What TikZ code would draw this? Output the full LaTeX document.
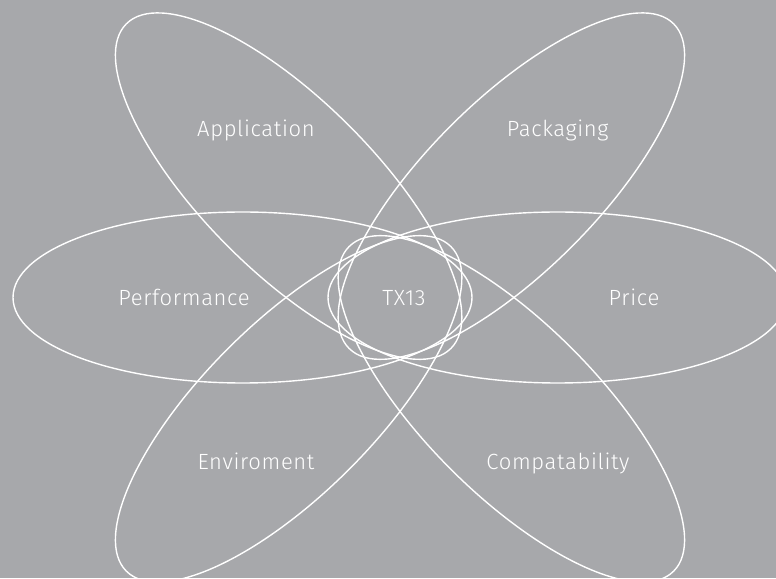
\documentclass[tikz,border=0pt]{standalone}
\usepackage{fontspec}
\setmainfont{Fira Sans}[UprightFont=* Light,LetterSpace=3]
\definecolor{bg}{RGB}{167,168,171}
\begin{document}
\begin{tikzpicture}[x=1pt,y=1pt,
  petal/.style={draw=white,line width=1.4pt},
  lbl/.style={text=white,anchor=base,inner sep=0pt,font=\fontsize{22}{25}\selectfont}]
\useasboundingbox (0,0) rectangle (776,578);
\fill[bg] (0,0) rectangle (776,578);
\clip (0,0) rectangle (776,578);
\coordinate (C) at (400,280.5);
% horizontal petals
\draw[petal] (242.5,280.5) ellipse (229.5 and 85.5);
\draw[petal] (557.5,280.5) ellipse (229.5 and 85.5);
% diagonal petals
\draw[petal,rotate around={-45:(C)}] (242.5,280.5) ellipse (229.5 and 85.5);
\draw[petal,rotate around={45:(C)}] (242.5,280.5) ellipse (229.5 and 85.5);
\draw[petal,rotate around={45:(C)}] (557.5,280.5) ellipse (229.5 and 85.5);
\draw[petal,rotate around={-45:(C)}] (557.5,280.5) ellipse (229.5 and 85.5);
% labels
\node[lbl] (app) at (256,441.3) {Application};
\node[lbl] (pack) at (557.7,441.3) {Packaging};
\node[lbl] (perf) at (184,272) {Performance};
\node[lbl] (price) at (634,272) {Price};
\node[lbl] (tx) at (404,272) {TX13};
\node[lbl] (env) at (256,108) {Enviroment};
\node[lbl] (comp) at (558,108) {Compatability};
\end{tikzpicture}
\end{document}
